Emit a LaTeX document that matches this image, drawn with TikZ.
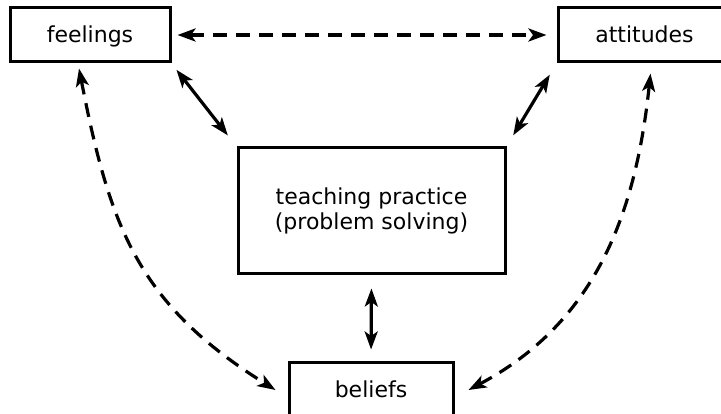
\documentclass[tikz,border=0pt]{standalone}
\usepackage{fontspec}
\setmainfont{DejaVu Sans}
\usetikzlibrary{arrows.meta}
\tikzset{
  box/.style={draw, line width=3pt, inner sep=0pt, font=\fontsize{22}{24.5}\selectfont, align=center},
  single/.style={box, text height=15pt, text depth=0pt, minimum height=54pt},
  link/.style={line width=3.2pt, arrows={Stealth[length=18pt,width=13pt,inset=4.5pt]-Stealth[length=18pt,width=13pt,inset=4.5pt]}},
  dlink/.style={link, dash pattern=on 14pt off 9pt}}
\begin{document}
\begin{tikzpicture}[x=1pt,y=-1pt]
\useasboundingbox (0,0) rectangle (721,414);
\clip (0,0) rectangle (721,414);
\node[single, minimum width=160pt] (feel) at (90,35) {feelings};
\node[single, minimum width=173pt] (att) at (644.5,35) {attitudes};
\node[box, minimum width=267pt, minimum height=126pt] (teach) at (371.5,211) {teaching practice\\(problem solving)};
\node[single, minimum width=164pt] (bel) at (371,390) {beliefs};
\draw[dlink, shorten <=6pt, shorten >=10pt] (feel.east) -- (att.west);
\draw[link, shorten <=8pt, shorten >=14pt] (feel.south east) -- (teach.north west);
\draw[link, shorten <=13pt, shorten >=13pt] (att.south west) -- (teach.north east);
\draw[link, shorten <=13pt, shorten >=12pt] (teach.south) -- (bel.north);
\draw[dlink] ([xshift=-11pt,yshift=-5pt]feel.south) to[out=-79,in=148,looseness=1.1] ([xshift=-12pt]bel.west);
\draw[dlink] ([xshift=6pt,yshift=-10pt]att.south) to[out=-96,in=28] ([xshift=14pt]bel.east);
\end{tikzpicture}
\end{document}
